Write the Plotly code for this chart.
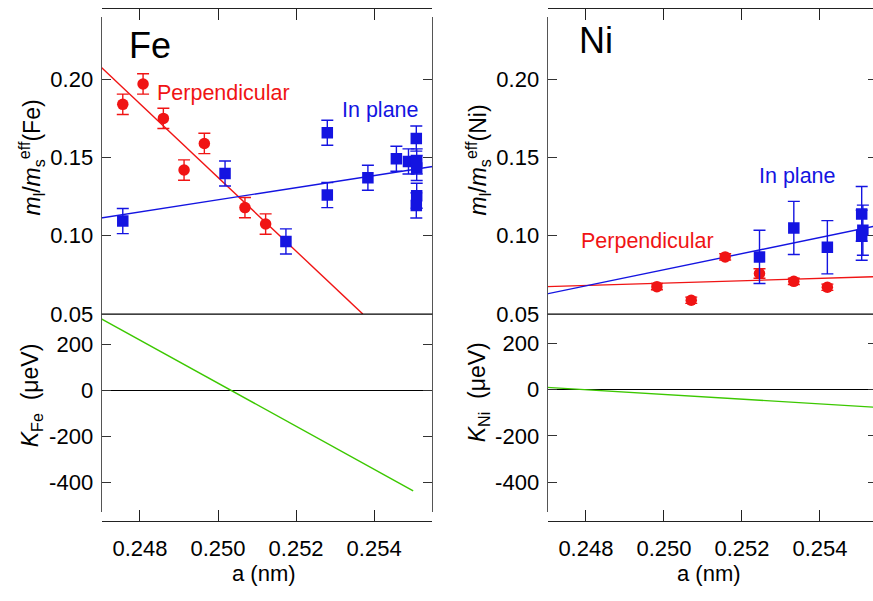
import plotly.graph_objects as go

# ---------------- data ----------------
tick_a = [0.248, 0.250, 0.252, 0.254]
tick_a_text = ["0.248", "0.250", "0.252", "0.254"]
tick_m = [0.05, 0.10, 0.15, 0.20]
tick_m_text = ["0.05", "0.10", "0.15", "0.20"]
tick_k = [-400, -200, 0, 200]
tick_k_text = ["-400", "-200", "0", "200"]

fe_perp_a = [0.24756, 0.24808, 0.24860, 0.24913, 0.24965, 0.25069, 0.25122]
fe_perp_v = [0.184, 0.197, 0.175, 0.142, 0.159, 0.118, 0.1075]
fe_perp_err = [0.0065, 0.0065, 0.0065, 0.0065, 0.0065, 0.0065, 0.0065]

fe_inp_a = [0.24756, 0.25018, 0.25174, 0.25280, 0.25280, 0.25384, 0.25457,
            0.25488, 0.25508, 0.25509, 0.25509, 0.25509, 0.25508]
fe_inp_v = [0.1094, 0.1398, 0.0964, 0.1658, 0.1260, 0.1371, 0.1492,
            0.1475, 0.1621, 0.1475, 0.1433, 0.1256, 0.1194]
fe_inp_err = [0.008, 0.008, 0.008, 0.008, 0.008, 0.008, 0.008,
              0.008, 0.008, 0.008, 0.008, 0.008, 0.008]

fe_perp_fit_a = [0.2470, 0.25371]
fe_perp_fit_v = [0.2078, 0.0500]
fe_inp_fit_a = [0.2470, 0.2555]
fe_inp_fit_v = [0.1114, 0.1443]
fe_k_a = [0.2470, 0.2550]
fe_k_v = [312, -437]

ni_perp_a = [0.24982, 0.25070, 0.25157, 0.25245, 0.25333, 0.25419]
ni_perp_v = [0.0675, 0.0588, 0.0865, 0.0759, 0.0709, 0.0671]
ni_perp_err = [0.002, 0.002, 0.002, 0.003, 0.002, 0.002]

ni_inp_a = [0.25245, 0.25333, 0.25419, 0.25507, 0.25510, 0.25507]
ni_inp_v = [0.0865, 0.105, 0.0927, 0.114, 0.1036, 0.1004]
ni_inp_err = [0.017, 0.017, 0.017, 0.0175, 0.016, 0.016]

ni_perp_fit_a = [0.2470, 0.2555]
ni_perp_fit_v = [0.0675, 0.0739]
ni_inp_fit_a = [0.2470, 0.2555]
ni_inp_fit_v = [0.0629, 0.1066]
ni_k_a = [0.2470, 0.2555]
ni_k_v = [10, -77]

# ---------------- style ----------------
W, H = 873, 601
RED = "rgb(240,20,20)"
BLUE = "rgb(20,20,225)"
GREEN = "rgb(60,200,0)"
FONT = "Liberation Sans, Arial, sans-serif"


def fx(px):
    return px / W


def fy(py):
    return 1 - py / H


fig = go.Figure()


def pts(a, v, err, color, symbol, xa, ya):
    fig.add_trace(go.Scatter(
        x=a, y=v, mode="markers", xaxis=xa, yaxis=ya, showlegend=False,
        marker=dict(color=color, symbol=symbol, size=11.5, line=dict(width=0)),
        error_y=dict(type="data", array=err, visible=True, color=color,
                     thickness=1.4, width=6)))


def line(a, v, color, xa, ya):
    fig.add_trace(go.Scatter(x=a, y=v, mode="lines", xaxis=xa, yaxis=ya,
                             showlegend=False, line=dict(color=color, width=1.4)))


# Fe panel
line(fe_perp_fit_a, fe_perp_fit_v, RED, "x", "y")
line(fe_inp_fit_a, fe_inp_fit_v, BLUE, "x", "y")
pts(fe_perp_a, fe_perp_v, fe_perp_err, RED, "circle", "x", "y")
pts(fe_inp_a, fe_inp_v, fe_inp_err, BLUE, "square", "x", "y")
line(fe_k_a, fe_k_v, GREEN, "x2", "y2")

# Ni panel
line(ni_perp_fit_a, ni_perp_fit_v, RED, "x3", "y3")
line(ni_inp_fit_a, ni_inp_fit_v, BLUE, "x3", "y3")
pts(ni_perp_a, ni_perp_v, ni_perp_err, RED, "circle", "x3", "y3")
pts(ni_inp_a, ni_inp_v, ni_inp_err, BLUE, "square", "x3", "y3")
line(ni_k_a, ni_k_v, GREEN, "x4", "y4")

# empty traces registering the right-edge tick axes of the Ni panel
fig.add_trace(go.Scatter(x=[], y=[], xaxis="x3", yaxis="y5", showlegend=False))
fig.add_trace(go.Scatter(x=[], y=[], xaxis="x4", yaxis="y6", showlegend=False))

LDOM = [fx(101.7), fx(432.3)]
RDOM = [fx(547.7), 1.0]
TDOM = [fy(321), fy(17.5)]
BDOM = [fy(523.3), fy(321)]
LRANGE = [0.24702, 0.25549]
RRANGE = [0.24702, 0.25536]
TRANGE = [0.05, 0.2397]
KRANGE_FE = [-529, 332]
KRANGE_NI = [-529, 327]

tickfont = dict(family=FONT, size=22, color="black")

xtop = dict(anchor="free", side="top", position=fy(8.5), showline=True,
            linecolor="#222", linewidth=1.3, ticks="inside", ticklen=11,
            tickcolor="#222", tickwidth=1.3, tickvals=tick_a,
            showticklabels=False, showgrid=False, zeroline=False)
xbot = dict(anchor="free", side="bottom", position=fy(532.5), showline=True,
            linecolor="#222", linewidth=1.3, ticks="inside", ticklen=11,
            tickcolor="#222", tickwidth=1.3, tickvals=tick_a,
            ticktext=tick_a_text, tickfont=tickfont, ticklabelstandoff=7,
            showgrid=False, zeroline=False)
ycommon = dict(showline=True, linecolor="#555", linewidth=1.3, ticks="inside",
               ticklen=9, tickcolor="#333", tickwidth=1.3, tickfont=tickfont,
               ticklabelstandoff=3, showgrid=False)
yedge = dict(side="right", anchor="free", position=1.0, showticklabels=False,
             showline=False, ticks="inside", ticklen=5, tickcolor="#333",
             tickwidth=1.3, showgrid=False, zeroline=False)

fig.update_layout(
    width=W, height=H, autosize=False,
    margin=dict(l=0, r=0, t=0, b=0),
    paper_bgcolor="white", plot_bgcolor="white",
    font=dict(family=FONT, color="black"),
    xaxis=dict(domain=LDOM, range=LRANGE, **xtop),
    xaxis2=dict(domain=LDOM, range=LRANGE, **xbot),
    xaxis3=dict(domain=RDOM, range=RRANGE, **xtop),
    xaxis4=dict(domain=RDOM, range=RRANGE, **xbot),
    yaxis=dict(domain=TDOM, range=TRANGE, anchor="x", tickvals=tick_m,
               ticktext=tick_m_text, zeroline=False, mirror="ticks", **ycommon),
    yaxis2=dict(domain=BDOM, range=KRANGE_FE, anchor="x2", tickvals=tick_k,
                ticktext=tick_k_text, zeroline=True, mirror="ticks",
                zerolinecolor="black", zerolinewidth=1.3, **ycommon),
    yaxis3=dict(domain=TDOM, range=TRANGE, anchor="x3", tickvals=tick_m,
                ticktext=tick_m_text, zeroline=False, **ycommon),
    yaxis4=dict(domain=BDOM, range=KRANGE_NI, anchor="x4", tickvals=tick_k,
                ticktext=tick_k_text, zeroline=True, zerolinecolor="black",
                zerolinewidth=1.3, **ycommon),
    yaxis5=dict(overlaying="y3", range=TRANGE, tickvals=tick_m, **yedge),
    yaxis6=dict(overlaying="y4", range=KRANGE_NI, tickvals=tick_k, **yedge),
)

# separator lines between upper and lower panels
for xr, yr in (("x", "y"), ("x3", "y3")):
    fig.add_shape(type="line", xref=xr + " domain", yref=yr + " domain",
                  x0=0, x1=1, y0=0, y1=0, line=dict(color="black", width=1.3))


def ann(text, x, y, size, color="black", xanchor="left", angle=0):
    fig.add_annotation(text=text, x=fx(x), y=fy(y), xref="paper", yref="paper",
                       xanchor=xanchor, yanchor="middle", showarrow=False,
                       textangle=angle,
                       font=dict(family=FONT, size=size, color=color))


ann("Fe", 127, 46, 36)
ann("Ni", 577, 41, 36)
ann("Perpendicular", 155, 95, 21.5, RED)
ann("In plane", 340, 112, 21.5, BLUE)
ann("In plane", 757, 180, 21.5, BLUE)
ann("Perpendicular", 579, 246, 21.5, RED)

ann("<i>m</i><sub>l</sub>/<i>m</i><sub>s</sub><sup>eff</sup>(Fe)", 31, 161, 23,
    xanchor="center", angle=-90)
ann("<i>m</i><sub>l</sub>/<i>m</i><sub>s</sub><sup>eff</sup>(Ni)", 478, 164, 23,
    xanchor="center", angle=-90)
ann("<i>K</i><sub>Fe</sub>  (μeV)", 31, 404, 23, xanchor="center", angle=-90)
ann("<i>K</i><sub>Ni</sub>  (μeV)", 478, 401, 23, xanchor="center", angle=-90)
ann("a (nm)", 264, 586, 22, xanchor="center")
ann("a (nm)", 709, 586, 22, xanchor="center")

fig.write_html(
    "out.html",
    config={"displayModeBar": False},
    post_script="document.body.style.margin='0px';"
                "document.documentElement.style.overflow='hidden';",
)
